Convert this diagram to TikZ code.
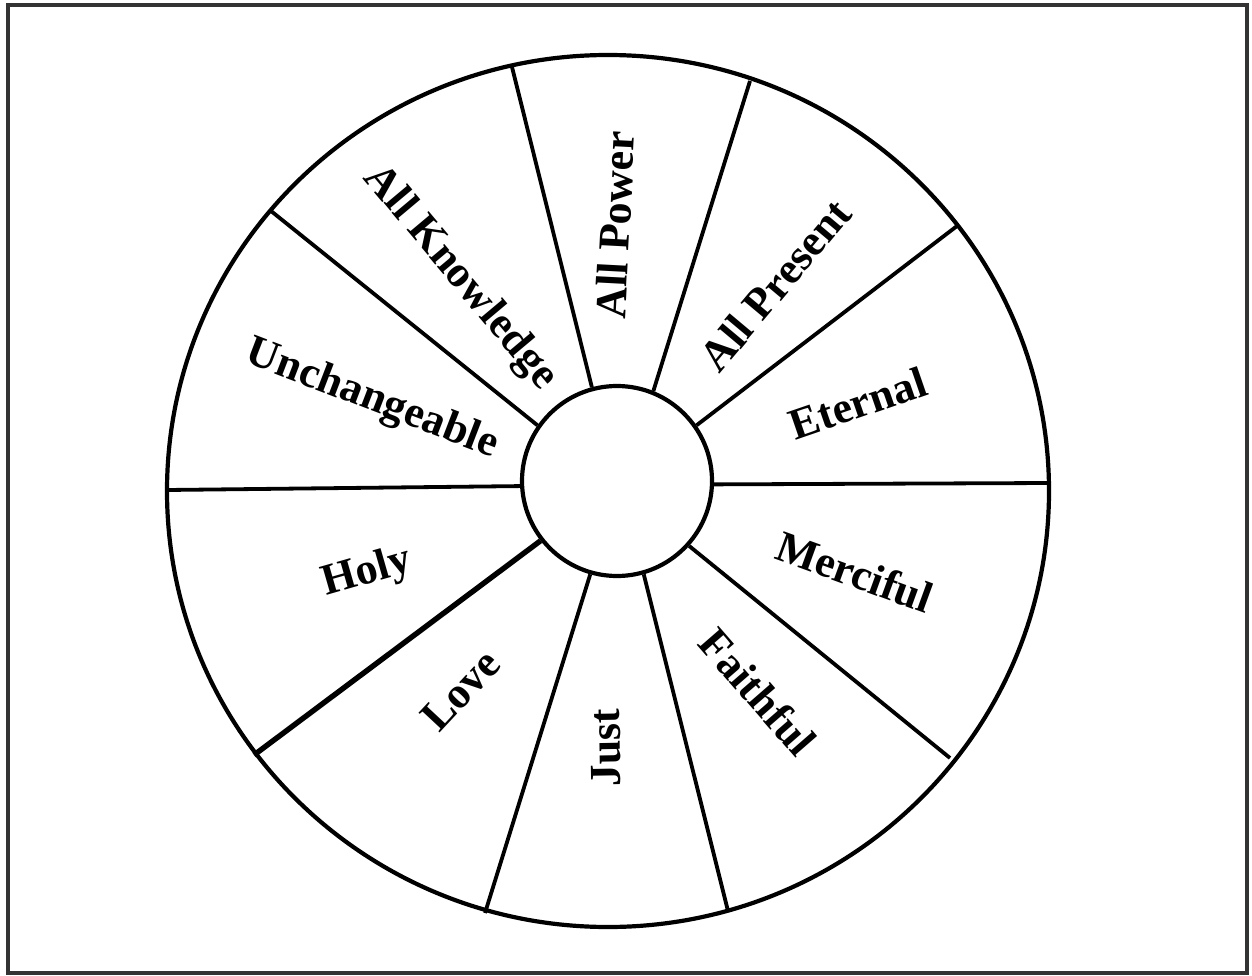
\documentclass[tikz,border=0pt]{standalone}
\usepackage{fontspec}
\setmainfont{Liberation Serif}
\usetikzlibrary{shapes.geometric}
\begin{document}
\begin{tikzpicture}[x=1pt,y=-1pt,
  spoke/.style={line width=3.8pt},
  thickspoke/.style={line width=5.4pt},
  ring/.style={draw, line width=4.2pt, inner sep=0pt},
  lbl/.style={font=\fontsize{44}{50}\selectfont\bfseries, inner sep=0pt},
]
\useasboundingbox (0,0) rectangle (1252,976);
\draw[line width=3.4pt, black!80] (8,5) rectangle (1247,973);
\node[ring, ellipse, minimum width=882pt, minimum height=872pt] (rim) at (608,491) {};
\node[ring, circle, minimum size=190pt] (hub) at (617,481) {};
% outer ends of the spokes
\coordinate (o1) at (512,67);
\coordinate (o2) at (750,81);
\coordinate (o3) at (957,226);
\coordinate (o4) at (1050,483);
\coordinate (o5) at (950,758);
\coordinate (o6) at (728,911);
\coordinate (o7) at (485,913);
\coordinate (o8) at (254,755);
\coordinate (o9) at (167,490);
\coordinate (o10) at (271,211);
% spokes
\draw[spoke] (hub.105.7) -- (o1);
\draw[spoke] (hub.68.4) -- (o2);
\draw[spoke] (hub.35.6) -- (o3);
\draw[spoke] (hub.-2.3) -- (o4);
\draw[spoke] (hub.-42.5) -- (o5);
\draw[spoke] (hub.-74.8) -- (o6);
\draw[spoke] (hub.-106) -- (o7);
\draw[thickspoke] (hub.-142.5) -- (o8);
\draw[spoke] (hub.183) -- (o9);
\draw[spoke] (hub.145.7) -- (o10);
% labels
\node[lbl, rotate=87] (power) at (615,225) {All Power};
\node[lbl, rotate=50] (present) at (775,285) {All Present};
\node[lbl, rotate=19] (eternal) at (858,403) {Eternal};
\node[lbl, rotate=-20] (merciful) at (855,572) {Merciful};
\node[lbl, rotate=-49] (faithful) at (758,692) {Faithful};
\node[lbl, rotate=91] (just) at (606,748) {Just};
\node[lbl, rotate=47] (love) at (461,690) {Love};
\node[lbl, rotate=16] (holy) at (367,573) {Holy};
\node[lbl, rotate=-21] (unchangeable) at (372,400) {Unchangeable};
\node[lbl, rotate=-50] (knowledge) at (460,278) {All Knowledge};
\end{tikzpicture}
\end{document}
